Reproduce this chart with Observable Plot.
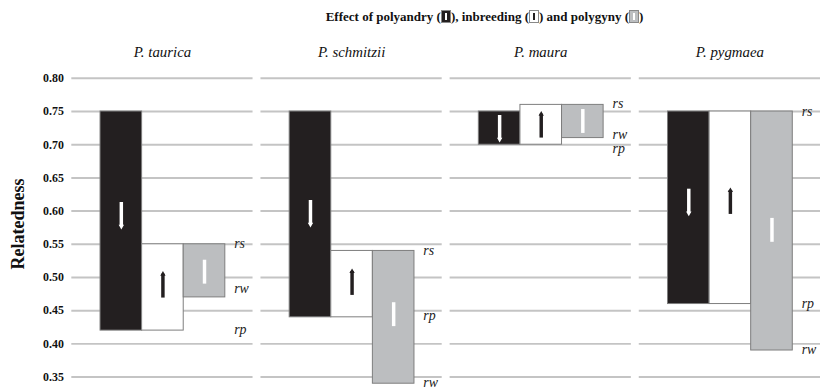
<!DOCTYPE html>
<html>
<head>
<meta charset="utf-8">
<script src="https://cdn.jsdelivr.net/npm/d3@7"></script>
<script src="https://cdn.jsdelivr.net/npm/@observablehq/plot@0.6"></script>
<style>
  html, body { margin: 0; padding: 0; background: #fff; overflow: hidden; width: 821px; height: 389px; }
  body { font-family: "Liberation Serif", serif; position: relative; }
  #title { height: 30px; line-height: 28px; padding-left: 148px; width: 821px; text-align: center;
           font-weight: bold; font-size: 13px; color: #111; white-space: nowrap; padding-top: 3px; box-sizing: border-box; }
  .ic { display: inline-block; width: 10px; height: 13px; vertical-align: -2px; position: relative; box-sizing: border-box; border: 1px solid #888; }
  .ic i { position: absolute; left: 3px; top: 2px; width: 2px; height: 7px; }
  #ylab { position: absolute; left: 18px; top: 224px; transform: translate(-50%, -50%) rotate(-90deg);
          font-weight: bold; font-size: 18px; color: #111; white-space: nowrap; }
  #chart svg text { font-family: "Liberation Serif", serif; }
</style>
</head>
<body>
<div id="title">Effect of polyandry (<span class="ic" style="background:#231f20"><i style="background:#fff"></i></span>), inbreeding (<span class="ic" style="background:#fff"><i style="background:#231f20"></i></span>) and polygyny (<span class="ic" style="background:#bcbec0"><i style="background:#fff"></i></span>)</div>
<div id="chart"></div>
<div id="ylab">Relatedness</div>
<script>
// ---- data ----
const species = ["P. taurica", "P. schmitzii", "P. maura", "P. pygmaea"];
const effects = ["polyandry", "inbreeding", "polygyny"];
const rStart = [0.75, 0.75, 0.75, 0.75];      // top of polyandry bar
const rp = [0.42, 0.44, 0.70, 0.46];
const rs = [0.55, 0.54, 0.76, 0.75];
const rw = [0.47, 0.34, 0.71, 0.39];
// label vertical positions (as read)
const rsLabelY = [0.551, 0.540, 0.762, 0.750];
const rwLabelY = [0.484, 0.342, 0.715, 0.392];
const rpLabelY = [0.422, 0.442, 0.694, 0.461];
// arrow centres (as read)
const arrowPolyandry = [0.595, 0.598, 0.726, 0.615];
const arrowInbreeding = [0.487, 0.491, 0.728, 0.613];
const arrowPolygyny  = [0.508, 0.444, 0.735, 0.571];
const yTicks = [0.35, 0.40, 0.45, 0.50, 0.55, 0.60, 0.65, 0.70, 0.75, 0.80];

// ---- build tables ----
const fills = {polyandry: "#231f20", inbreeding: "#ffffff", polygyny: "#bcbec0"};
const bars = [];
const arrows = [];
species.forEach((sp, k) => {
  bars.push({sp, i: 0, e: "polyandry", y1: rStart[k], y2: rp[k]});
  bars.push({sp, i: 1, e: "inbreeding", y1: rp[k], y2: rs[k]});
  bars.push({sp, i: 2, e: "polygyny", y1: rs[k], y2: rw[k]});
  arrows.push({sp, i: 0, mid: arrowPolyandry[k], dir: -1, color: "#ffffff", head: true});
  arrows.push({sp, i: 1, mid: arrowInbreeding[k], dir: 1, color: "#231f20", head: true});
  arrows.push({sp, i: 2, mid: arrowPolygyny[k], dir: 0, color: "#ffffff", head: false});
});
const labels = [];
species.forEach((sp, k) => {
  labels.push({sp, t: "rs", y: rsLabelY[k]});
  labels.push({sp, t: "rw", y: rwLabelY[k]});
  labels.push({sp, t: "rp", y: rpLabelY[k]});
});
const half = 0.018;

const chart = Plot.plot({
  width: 829,
  height: 359,
  marginLeft: 71,
  marginRight: 0,
  marginTop: 48.3,
  marginBottom: 0,
  style: "font-family: 'Liberation Serif', serif; background: transparent; overflow: visible;",
  fx: {domain: species, paddingInner: 8.5 / 191.5, paddingOuter: 0, axis: null, label: null},
  x: {domain: [-29 / 42, 154 / 42], axis: null},
  y: {domain: [0.3365, 0.80], axis: null},
  marks: [
    Plot.ruleY(yTicks, {y: d => d, stroke: "#c4c4c4", strokeWidth: 2}),
    Plot.axisY({ticks: yTicks, tickFormat: d3.format(".2f"), tickSize: 0, tickPadding: 8,
                fontSize: 12, fontWeight: "bold", fill: "#111", label: null}),
    Plot.rect(bars, {fx: "sp", x1: d => d.i, x2: d => d.i + 1, y1: "y1", y2: "y2",
                     fill: d => fills[d.e], stroke: "#7d7d7d", strokeWidth: 1}),
    Plot.ruleX(arrows, {fx: "sp", x: d => d.i + 0.5, y1: d => d.mid - half, y2: d => d.mid + half,
                        stroke: "color", strokeWidth: 3.5}),
    Plot.dot(arrows.filter(d => d.head), {fx: "sp", x: d => d.i + 0.5, y: d => d.mid + d.dir * half,
                        symbol: "triangle", r: 2, fill: "color", stroke: "none",
                        rotate: d => d.dir > 0 ? 0 : 180}),
    Plot.text(labels, {fx: "sp", x: 3, y: "y", text: "t", dx: 9, textAnchor: "start",
                       fontStyle: "italic", fontSize: 14, fill: "#222"}),
    Plot.text(species, {fx: d => d, text: d => d, frameAnchor: "top", dy: -32,
                        fontStyle: "italic", fontSize: 15, fill: "#111"})
  ]
});
document.getElementById("chart").appendChild(chart);
</script>
</body>
</html>
